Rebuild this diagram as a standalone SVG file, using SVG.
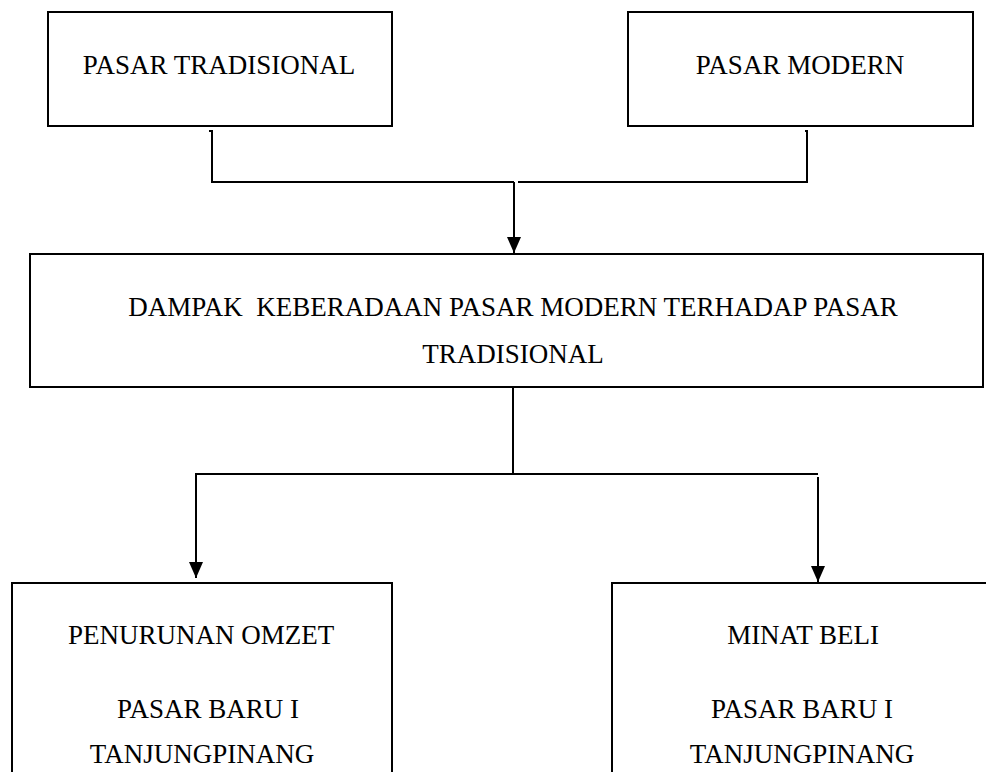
<svg xmlns="http://www.w3.org/2000/svg" width="986" height="772" viewBox="0 0 986 772">
<style>
.box{fill:#fff;stroke:#000;stroke-width:2}
.lbl{font-family:"Liberation Serif","Times New Roman",serif;font-size:27px;fill:#000;text-anchor:middle;white-space:pre}
.conn{fill:none;stroke:#000;stroke-width:2}
</style>
<defs>
<marker id="arr" markerUnits="userSpaceOnUse" markerWidth="16" markerHeight="14" refX="16" refY="7" orient="auto" viewBox="0 0 16 14">
<path d="M0,0 L16,7 L0,14 Z" fill="#000"/>
</marker>
</defs>
<rect width="986" height="772" fill="#fff"/>
<g id="node-pasar-tradisional">
<rect class="box" x="48" y="12" width="344" height="114"/>
<text class="lbl" x="219" y="74">PASAR TRADISIONAL</text>
</g>
<g id="node-pasar-modern">
<rect class="box" x="628" y="12" width="345" height="114"/>
<text class="lbl" x="800" y="74">PASAR MODERN</text>
</g>
<g id="node-dampak">
<rect class="box" x="30" y="254" width="953" height="133"/>
<text class="lbl" x="513" y="316" xml:space="preserve">DAMPAK  KEBERADAAN PASAR MODERN TERHADAP PASAR</text>
<text class="lbl" x="513" y="363">TRADISIONAL</text>
</g>
<g id="node-penurunan">
<rect class="box" x="12" y="583" width="380" height="200"/>
<text class="lbl" x="201" y="644">PENURUNAN OMZET</text>
<text class="lbl" x="208" y="718">PASAR BARU I</text>
<text class="lbl" x="202" y="763">TANJUNGPINANG</text>
</g>
<g id="node-minat">
<rect class="box" x="612" y="583" width="380" height="200"/>
<text class="lbl" x="803" y="644">MINAT BELI</text>
<text class="lbl" x="802" y="718">PASAR BARU I</text>
<text class="lbl" x="802" y="763">TANJUNGPINANG</text>
</g>
<g id="connectors">
<path class="conn" d="M209,131 H212 V182 H514"/>
<path class="conn" d="M805,131 H807 V182 H518"/>
<path class="conn" d="M514,182 V253" marker-end="url(#arr)"/>
<path class="conn" d="M513,387 V474"/>
<path class="conn" d="M513,474 H196 V578" marker-end="url(#arr)"/>
<path class="conn" d="M513,474 H818"/>
<path class="conn" d="M818,477 V582" marker-end="url(#arr)"/>
</g>
</svg>
